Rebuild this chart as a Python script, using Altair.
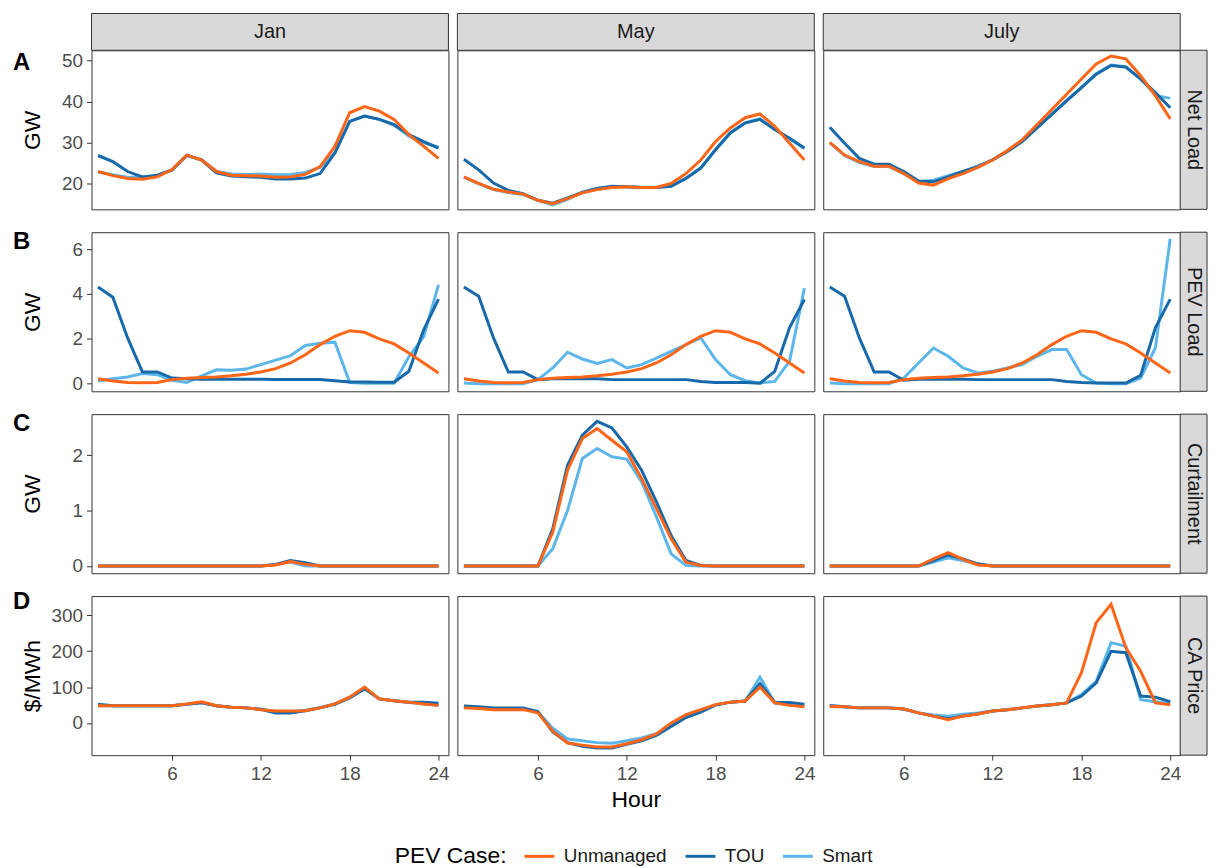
import altair as alt
import pandas as pd

FONT = "Liberation Sans"
HOURS = list(range(1, 25))
MONTHS = ["Jan", "May", "July"]
CASES = ["Unmanaged", "TOU", "Smart"]
COLORS = ["#FF6516", "#1769AA", "#5CB6E9"]
ROWS = ["Net Load", "PEV Load", "Curtailment", "CA Price"]
LETTERS = ["A", "B", "C", "D"]
Y_TITLES = ["GW", "GW", "GW", "$/MWh"]
Y_TICKS = [[20, 30, 40, 50], [0, 2, 4, 6], [0, 1, 2], [0, 100, 200, 300]]
Y_DOMAINS = [[13.8, 52.5], [-0.34, 6.75], [-0.13, 2.74], [-90, 354]]
X_TICKS = [6, 12, 18, 24]
X_DOMAIN = [0.56, 24.67]
LEGEND_TITLE = "PEV Case:"

# ---- Net Load (GW)
NET_JAN_UNM = [23.0, 22.0, 21.3, 21.1, 21.7, 23.5, 27.0, 25.8, 23.0, 22.1, 22.0, 21.9, 21.6, 21.7, 22.3, 24.2, 29.1, 37.3, 38.8, 37.7, 35.7, 32.0, 29.1, 26.2]
NET_JAN_TOU = [26.9, 25.4, 23.0, 21.7, 22.1, 23.4, 27.0, 25.8, 22.7, 21.9, 21.7, 21.6, 21.2, 21.2, 21.4, 22.5, 27.5, 35.2, 36.5, 35.7, 34.4, 32.0, 30.3, 28.7]
NET_JAN_SMART = [22.9, 22.2, 21.6, 21.6, 22.0, 23.4, 26.8, 25.9, 23.1, 22.4, 22.3, 22.4, 22.2, 22.3, 22.8, 24.0, 27.6, 35.2, 36.5, 35.7, 34.3, 31.6, 30.0, 28.9]
NET_MAY_UNM = [21.7, 20.1, 18.7, 18.0, 17.5, 16.0, 15.2, 16.4, 17.8, 18.6, 19.1, 19.3, 19.1, 19.1, 20.1, 22.5, 25.8, 30.3, 33.6, 36.1, 37.0, 34.0, 29.9, 25.8]
NET_MAY_TOU = [26.0, 23.4, 20.2, 18.4, 17.6, 16.0, 15.3, 16.6, 17.9, 18.9, 19.4, 19.3, 19.1, 19.1, 19.4, 21.3, 23.8, 28.3, 32.4, 34.8, 35.7, 33.2, 31.1, 28.7]
NET_MAY_SMART = [21.6, 20.0, 18.6, 17.9, 17.4, 16.0, 14.9, 16.2, 18.0, 18.9, 19.3, 19.3, 19.2, 19.2, 19.5, 21.4, 23.9, 28.4, 32.5, 34.9, 35.8, 33.2, 31.0, 28.6]
NET_JUL_UNM = [30.1, 27.0, 25.4, 24.3, 24.3, 22.5, 20.2, 19.7, 21.3, 22.5, 24.0, 25.8, 28.1, 30.7, 34.4, 38.1, 41.8, 45.5, 49.2, 51.1, 50.4, 46.3, 41.4, 35.8]
NET_JUL_TOU = [33.8, 29.9, 26.2, 24.8, 24.8, 23.0, 20.7, 20.5, 21.7, 23.0, 24.2, 25.8, 27.9, 30.3, 33.6, 36.9, 40.2, 43.4, 46.7, 48.8, 48.4, 45.5, 42.2, 38.5]
NET_JUL_SMART = [30.0, 26.9, 25.2, 24.2, 24.2, 22.5, 20.5, 20.9, 22.0, 23.0, 24.3, 25.9, 28.0, 30.4, 33.7, 37.0, 40.3, 43.5, 46.8, 48.9, 48.5, 45.6, 41.5, 40.8]

# ---- PEV Load (GW)
PEV_UNM = [0.22, 0.12, 0.05, 0.04, 0.05, 0.18, 0.24, 0.27, 0.30, 0.35, 0.42, 0.52, 0.67, 0.92, 1.29, 1.74, 2.11, 2.36, 2.29, 2.00, 1.77, 1.37, 0.92, 0.48]
PEV_JAN_TOU = [4.31, 3.85, 2.04, 0.52, 0.52, 0.25, 0.22, 0.20, 0.20, 0.20, 0.20, 0.20, 0.19, 0.19, 0.19, 0.19, 0.13, 0.07, 0.07, 0.06, 0.06, 0.55, 2.40, 3.77]
PEV_JAN_SMART = [0.12, 0.22, 0.30, 0.45, 0.40, 0.15, 0.05, 0.35, 0.62, 0.60, 0.65, 0.85, 1.05, 1.25, 1.70, 1.80, 1.85, 0.05, 0.02, 0.02, 0.02, 1.20, 2.10, 4.40]
PEV_MAY_TOU = [4.31, 3.90, 2.04, 0.52, 0.52, 0.18, 0.22, 0.22, 0.22, 0.22, 0.18, 0.18, 0.18, 0.18, 0.18, 0.18, 0.10, 0.05, 0.05, 0.05, 0.02, 0.55, 2.50, 3.75]
PEV_MAY_SMART = [0.03, 0.00, 0.00, 0.00, 0.00, 0.18, 0.70, 1.40, 1.10, 0.90, 1.07, 0.70, 0.85, 1.14, 1.44, 1.74, 2.04, 1.07, 0.40, 0.13, 0.03, 0.10, 1.00, 4.26]
PEV_JUL_TOU = [4.31, 3.90, 2.04, 0.52, 0.52, 0.15, 0.20, 0.20, 0.20, 0.20, 0.18, 0.18, 0.18, 0.18, 0.18, 0.18, 0.10, 0.05, 0.03, 0.03, 0.03, 0.37, 2.50, 3.77]
PEV_JUL_SMART = [0.03, 0.00, 0.00, 0.00, 0.00, 0.25, 0.92, 1.59, 1.22, 0.70, 0.48, 0.55, 0.70, 0.85, 1.22, 1.52, 1.52, 0.40, 0.03, 0.00, 0.00, 0.25, 1.60, 6.46]

# ---- Curtailment (GW)
CUR_JAN_UNM = [0, 0, 0, 0, 0, 0, 0, 0, 0, 0, 0, 0, 0.02, 0.08, 0.03, 0, 0, 0, 0, 0, 0, 0, 0, 0]
CUR_JAN_TOU = [0, 0, 0, 0, 0, 0, 0, 0, 0, 0, 0, 0, 0.03, 0.10, 0.06, 0, 0, 0, 0, 0, 0, 0, 0, 0]
CUR_JAN_SMART = [0, 0, 0, 0, 0, 0, 0, 0, 0, 0, 0, 0, 0.03, 0.07, 0.00, 0, 0, 0, 0, 0, 0, 0, 0, 0]
CUR_MAY_UNM = [0, 0, 0, 0, 0, 0, 0.61, 1.73, 2.30, 2.48, 2.27, 2.06, 1.58, 1.04, 0.49, 0.07, 0.01, 0, 0, 0, 0, 0, 0, 0]
CUR_MAY_TOU = [0, 0, 0, 0, 0, 0, 0.67, 1.82, 2.36, 2.61, 2.49, 2.15, 1.73, 1.16, 0.55, 0.10, 0.01, 0, 0, 0, 0, 0, 0, 0]
CUR_MAY_SMART = [0, 0, 0, 0, 0, 0, 0.31, 1.00, 1.94, 2.12, 1.97, 1.93, 1.52, 0.89, 0.22, 0.01, 0, 0, 0, 0, 0, 0, 0, 0]
CUR_JUL_UNM = [0, 0, 0, 0, 0, 0, 0, 0.13, 0.24, 0.12, 0.02, 0, 0, 0, 0, 0, 0, 0, 0, 0, 0, 0, 0, 0]
CUR_JUL_TOU = [0, 0, 0, 0, 0, 0, 0, 0.10, 0.20, 0.13, 0.04, 0, 0, 0, 0, 0, 0, 0, 0, 0, 0, 0, 0, 0]
CUR_JUL_SMART = [0, 0, 0, 0, 0, 0, 0, 0.07, 0.15, 0.10, 0.03, 0, 0, 0, 0, 0, 0, 0, 0, 0, 0, 0, 0, 0]

# ---- CA Price ($/MWh)
PRC_JAN_UNM = [48, 48, 48, 48, 48, 48, 53, 59, 48, 44, 42, 37, 33, 33, 34, 42, 53, 72, 100, 67, 62, 58, 53, 49]
PRC_JAN_TOU = [52, 48, 48, 48, 48, 48, 52, 56, 48, 44, 42, 38, 28, 28, 34, 42, 52, 70, 95, 67, 62, 58, 58, 55]
PRC_JAN_SMART = [48, 48, 48, 48, 48, 48, 52, 57, 48, 44, 42, 38, 32, 32, 35, 43, 53, 72, 98, 67, 62, 57, 53, 49]
PRC_MAY_UNM = [42, 40, 37, 37, 37, 28, -23, -56, -62, -67, -67, -58, -47, -31, 0, 23, 37, 51, 58, 61, 100, 56, 49, 45]
PRC_MAY_TOU = [47, 45, 42, 42, 42, 32, -25, -55, -65, -70, -70, -60, -50, -35, -10, 15, 30, 50, 58, 61, 110, 58, 57, 52]
PRC_MAY_SMART = [44, 42, 40, 40, 40, 30, -15, -45, -50, -55, -57, -50, -42, -30, -5, 18, 33, 50, 58, 61, 128, 55, 53, 48]
PRC_JUL_UNM = [46, 45, 42, 42, 42, 39, 28, 19, 9, 19, 25, 33, 37, 42, 47, 51, 56, 140, 280, 331, 210, 144, 56, 51]
PRC_JUL_TOU = [49, 45, 42, 42, 42, 39, 28, 19, 12, 19, 25, 33, 37, 42, 47, 51, 56, 75, 112, 200, 196, 75, 72, 59]
PRC_JUL_SMART = [46, 45, 42, 42, 42, 39, 28, 22, 19, 24, 28, 33, 37, 42, 47, 51, 56, 79, 116, 224, 214, 65, 59, 53]

SERIES = {
    ("Net Load", "Jan"): {"Unmanaged": NET_JAN_UNM, "TOU": NET_JAN_TOU, "Smart": NET_JAN_SMART},
    ("Net Load", "May"): {"Unmanaged": NET_MAY_UNM, "TOU": NET_MAY_TOU, "Smart": NET_MAY_SMART},
    ("Net Load", "July"): {"Unmanaged": NET_JUL_UNM, "TOU": NET_JUL_TOU, "Smart": NET_JUL_SMART},
    ("PEV Load", "Jan"): {"Unmanaged": PEV_UNM, "TOU": PEV_JAN_TOU, "Smart": PEV_JAN_SMART},
    ("PEV Load", "May"): {"Unmanaged": PEV_UNM, "TOU": PEV_MAY_TOU, "Smart": PEV_MAY_SMART},
    ("PEV Load", "July"): {"Unmanaged": PEV_UNM, "TOU": PEV_JUL_TOU, "Smart": PEV_JUL_SMART},
    ("Curtailment", "Jan"): {"Unmanaged": CUR_JAN_UNM, "TOU": CUR_JAN_TOU, "Smart": CUR_JAN_SMART},
    ("Curtailment", "May"): {"Unmanaged": CUR_MAY_UNM, "TOU": CUR_MAY_TOU, "Smart": CUR_MAY_SMART},
    ("Curtailment", "July"): {"Unmanaged": CUR_JUL_UNM, "TOU": CUR_JUL_TOU, "Smart": CUR_JUL_SMART},
    ("CA Price", "Jan"): {"Unmanaged": PRC_JAN_UNM, "TOU": PRC_JAN_TOU, "Smart": PRC_JAN_SMART},
    ("CA Price", "May"): {"Unmanaged": PRC_MAY_UNM, "TOU": PRC_MAY_TOU, "Smart": PRC_MAY_SMART},
    ("CA Price", "July"): {"Unmanaged": PRC_JUL_UNM, "TOU": PRC_JUL_TOU, "Smart": PRC_JUL_SMART},
}

W, H = 359, 160
STRIP_H, STRIP_W = 37, 27
LETTER_Y = [13, 10, 10, 6]

color_scale = alt.Scale(domain=CASES, range=COLORS)


def panel(r, c):
    row, month = ROWS[r], MONTHS[c]
    if c == 0:
        yaxis = alt.Axis(values=Y_TICKS[r], title=Y_TITLES[r], titleX=-59, titleY=H / 2,
                         titleBaseline="middle", titleAlign="center", titleAngle=270)
    else:
        yaxis = None
    if r == 3:
        xaxis = alt.Axis(values=X_TICKS, title="Hour" if c == 1 else None)
    else:
        xaxis = None
    layers = []
    for case in ["Smart", "TOU", "Unmanaged"]:
        vals = SERIES[(row, month)][case]
        d = pd.DataFrame({"hour": HOURS, "value": vals, "case": case})
        layers.append(
            alt.Chart(d).mark_line(strokeWidth=3).encode(
                x=alt.X("hour:Q", scale=alt.Scale(domain=X_DOMAIN, nice=False, zero=False), axis=xaxis),
                y=alt.Y("value:Q", scale=alt.Scale(domain=Y_DOMAINS[r], nice=False, zero=False), axis=yaxis),
                color=alt.Color("case:N", scale=color_scale, legend=alt.Legend(title=None)),
            )
        )
    if r == 0:
        hd = alt.Chart(pd.DataFrame({"t": [month]}))
        layers.append(hd.mark_rect(fill="#D9D9D9", stroke="#333333", strokeWidth=1).encode(
            x=alt.value(0), x2=alt.value(W), y=alt.value(-STRIP_H), y2=alt.value(0)))
        layers.append(hd.mark_text(font=FONT, fontSize=20, color="#1A1A1A").encode(
            text="t:N", x=alt.value(W / 2), y=alt.value(-STRIP_H / 2)))
    if c == 2:
        sd = alt.Chart(pd.DataFrame({"t": [row]}))
        layers.append(sd.mark_rect(fill="#D9D9D9", stroke="#333333", strokeWidth=1).encode(
            x=alt.value(W), x2=alt.value(W + STRIP_W), y=alt.value(0), y2=alt.value(H)))
        layers.append(sd.mark_text(font=FONT, fontSize=20, color="#1A1A1A", angle=90).encode(
            text="t:N", x=alt.value(W + STRIP_W / 2), y=alt.value(H / 2)))
    if c == 0:
        ld = alt.Chart(pd.DataFrame({"t": [LETTERS[r]]}))
        layers.append(ld.mark_text(font=FONT, fontSize=24, fontWeight="bold", color="black",
                                   align="left", baseline="middle").encode(
            text="t:N", x=alt.value(-79), y=alt.value(LETTER_Y[r])))
    if r == 3 and c == 0:
        td = alt.Chart(pd.DataFrame({"t": [LEGEND_TITLE]}))
        layers.append(td.mark_text(font=FONT, fontSize=23, color="black",
                                   align="left", baseline="middle").encode(
            text="t:N", x=alt.value(305), y=alt.value(261)))
    return alt.layer(*layers).properties(width=W, height=H)


panels = [panel(r, c) for r in range(4) for c in range(3)]

chart = alt.concat(
    *panels, columns=3, spacing={"row": 23, "column": 9}, bounds="flush"
).properties(
    padding={"left": 4, "top": 2, "right": 2, "bottom": 2}
).configure_view(
    stroke="#333333", strokeWidth=1
).configure_axis(
    grid=False, domain=False,
    labelFont=FONT, labelFontSize=19, labelColor="#4D4D4D",
    tickColor="#333333", tickSize=5, labelPadding=4,
    titleFont=FONT, titleFontSize=23, titleColor="black", titleFontWeight="normal",
).configure_axisX(
    titlePadding=6
).configure_legend(
    orient="none", legendX=434, legendY=794, direction="horizontal",
    symbolType="stroke", symbolSize=900, symbolStrokeWidth=3,
    labelFont=FONT, labelFontSize=19, labelColor="#1A1A1A",
    columnPadding=12, labelOffset=8,
)

chart.save("out.html", embed_options={"renderer": "svg", "actions": False})
